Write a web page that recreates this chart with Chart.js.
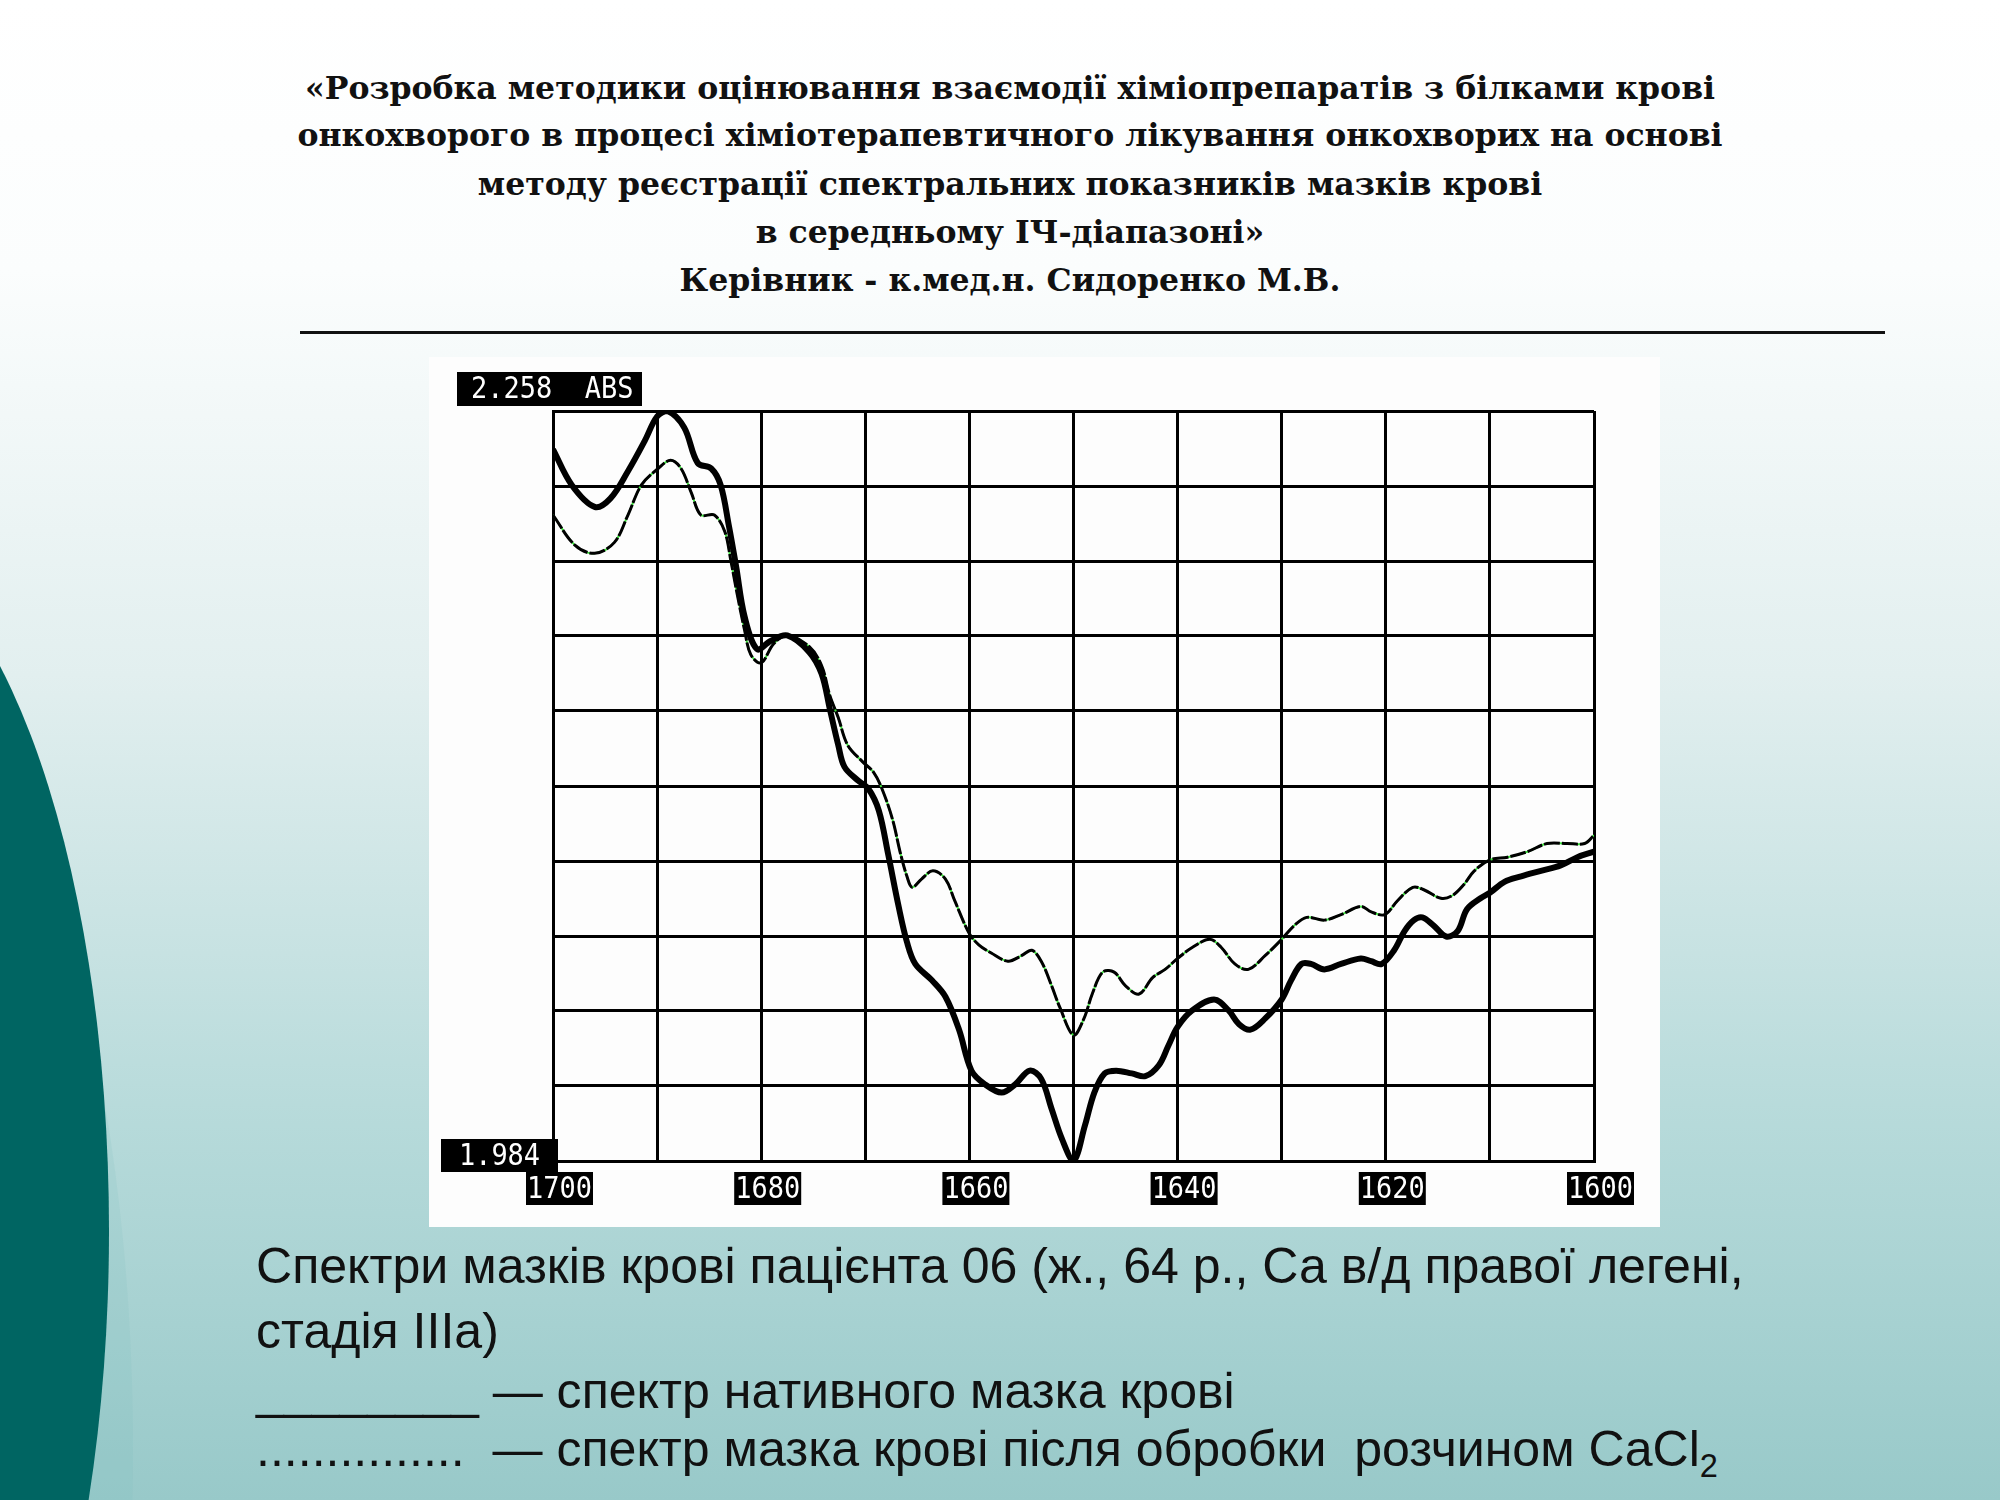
<!DOCTYPE html>
<html>
<head>
<meta charset="utf-8">
<script src="https://cdn.jsdelivr.net/npm/chart.js@4.4.1/dist/chart.umd.min.js"></script>
<style>
  html, body { margin: 0; padding: 0; }
  body {
    width: 2000px; height: 1500px; position: relative; overflow: hidden;
    background: linear-gradient(to bottom, #ffffff 0%, #fbfdfd 18%, #e2efef 45%, #b6dada 75%, #98c9c9 100%);
  }
  .blob { position: absolute; border-radius: 50%; }
  .line { position: absolute; height: 0; line-height: 0; white-space: pre; }
  .title { left: 20px; width: 1980px; text-align: center; font-family: "DejaVu Serif", serif; font-weight: bold; font-size: 30px; color: #111; }
  .caption { left: 256px; font-family: "Liberation Sans", Arial, sans-serif; font-size: 44px; color: #111; }
  .caption span, .title span { display: inline-block; }
  #rule { position: absolute; left: 300px; top: 331px; width: 1585px; height: 3px; background: #111; }
  #chartBox { position: absolute; left: 429px; top: 357px; width: 1231px; height: 870px; background: #fdfdfd; }
</style>
</head>
<body>
<div class="blob" style="left:-333px; top:724px; width:466px; height:1452px; background: rgba(120,185,190,0.15);"></div>
<div class="blob" style="left:-423px; top:531px; width:532px; height:1400px; background:#006562;"></div>

<div class="line title" style="top:88px"><span>«Розробка методики оцінювання взаємодії хіміопрепаратів з білками крові</span></div>
<div class="line title" style="top:135px"><span>онкохворого в процесі хіміотерапевтичного лікування онкохворих на основі</span></div>
<div class="line title" style="top:184px"><span>методу реєстрації спектральних показників мазків крові</span></div>
<div class="line title" style="top:232px"><span>в середньому ІЧ-діапазоні»</span></div>
<div class="line title" style="top:280px"><span>Керівник - к.мед.н. Сидоренко М.В.</span></div>
<div id="rule"></div>

<div id="chartBox"><canvas id="spectra" width="1231" height="870"></canvas></div>

<div class="line caption" style="top:1266px"><span>Спектри мазків крові пацієнта 06 (ж., 64 р., Са в/д правої легені,</span></div>
<div class="line caption" style="top:1331px"><span>стадія IIIa)</span></div>
<div class="line caption" style="top:1391px"><span>________ — спектр нативного мазка крові</span></div>
<div class="line caption" style="top:1449px"><span>...............  — спектр мазка крові після обробки  розчином CaCl<sub style="font-size:0.65em; line-height:0">2</sub></span></div>

<script>
// wavenumber, cm-1 (x axis runs 1700 -> 1600)
const nativeWn = [1700, 1698.2, 1696, 1694.5, 1692.8, 1691.2, 1690, 1689, 1687.4, 1686.1, 1684.8, 1683.9, 1683.1,
  1682.4, 1681.6, 1680.4, 1679.1, 1677.5, 1675.4, 1674.2, 1673.4, 1672.6, 1672, 1670.7, 1669.7, 1668.7, 1667.8,
  1666.8, 1666, 1665.2, 1663.6, 1662.3, 1661, 1659.8, 1658.5, 1656.9, 1655.6, 1654.2, 1653.1, 1652.1, 1651.1,
  1650, 1648.9, 1648, 1647, 1645.9, 1644.4, 1643.1, 1641.8, 1640.9, 1640, 1638.6, 1636.5, 1635.1, 1634.1, 1633,
  1631.6, 1630, 1629.1, 1628.1, 1627.2, 1625.9, 1624.3, 1622.4, 1621.4, 1620.4, 1619.2, 1618.2, 1617.3, 1616.5,
  1615.4, 1614.2, 1613.1, 1612.2, 1610.9, 1610, 1608.6, 1607, 1605.1, 1603.2, 1601.6, 1600];
// absorbance of native smear
const nativeAbs = [2.244, 2.231, 2.223, 2.226, 2.236, 2.247, 2.256, 2.258, 2.252, 2.239, 2.237, 2.231, 2.216,
  2.201, 2.183, 2.171, 2.174, 2.176, 2.170, 2.162, 2.149, 2.136, 2.128, 2.123, 2.120, 2.112, 2.096,
  2.077, 2.064, 2.056, 2.050, 2.044, 2.032, 2.017, 2.012, 2.009, 2.012, 2.017, 2.014, 2.003, 1.992,
  1.984, 1.997, 2.009, 2.016, 2.017, 2.016, 2.015, 2.019, 2.026, 2.033, 2.039, 2.043, 2.039, 2.034, 2.032,
  2.036, 2.043, 2.050, 2.056, 2.056, 2.054, 2.056, 2.058, 2.057, 2.056, 2.061, 2.068, 2.072, 2.073,
  2.070, 2.066, 2.068, 2.076, 2.080, 2.082, 2.086, 2.088, 2.090, 2.092, 2.095, 2.097];

const cacl2Wn = [1700, 1697.9, 1696, 1694.1, 1692.8, 1691.5, 1689.9, 1688.7, 1687.7, 1686.7, 1685.8, 1684.5, 1683.5,
  1682.9, 1682.3, 1681.6, 1681, 1680, 1678.8, 1677.5, 1675.4, 1674.2, 1673.4, 1672.6, 1671.7, 1670.3, 1669.2,
  1668.4, 1667.4, 1666.6, 1666, 1665.5, 1664.6, 1663.5, 1662.3, 1661.4, 1660, 1659.1, 1657.9, 1656.3, 1655,
  1654, 1653.1, 1652.1, 1651.3, 1650, 1649, 1648.2, 1647.2, 1646.1, 1645, 1643.7, 1642.4, 1641.2, 1640,
  1638.6, 1636.9, 1635.8, 1634.5, 1633.2, 1631.6, 1630, 1628.8, 1627.6, 1625.9, 1624.3, 1622.4, 1621.4, 1620.1,
  1618.9, 1617.4, 1616.3, 1614.7, 1613.6, 1612.5, 1611.5, 1610, 1608.3, 1606.4, 1604.5, 1602.6, 1600.9, 1600];
// absorbance after CaCl2 treatment
const cacl2Abs = [2.220, 2.209, 2.206, 2.210, 2.220, 2.231, 2.237, 2.240, 2.237, 2.228, 2.220, 2.220, 2.214,
  2.203, 2.191, 2.178, 2.169, 2.166, 2.173, 2.176, 2.172, 2.165, 2.154, 2.146, 2.136, 2.130, 2.126,
  2.120, 2.109, 2.096, 2.088, 2.084, 2.087, 2.090, 2.087, 2.079, 2.067, 2.063, 2.060, 2.057, 2.059,
  2.061, 2.057, 2.048, 2.040, 2.030, 2.036, 2.045, 2.053, 2.053, 2.048, 2.045, 2.051, 2.054, 2.058,
  2.062, 2.065, 2.062, 2.056, 2.054, 2.059, 2.065, 2.070, 2.073, 2.072, 2.074, 2.077, 2.075, 2.074,
  2.079, 2.084, 2.083, 2.080, 2.081, 2.085, 2.090, 2.094, 2.095, 2.097, 2.100, 2.100, 2.100, 2.103];

const xTickLabels = [1700, 1680, 1660, 1640, 1620, 1600];
const yGrid = [1.984, 2.0114, 2.0388, 2.0662, 2.0936, 2.121, 2.1484, 2.1758, 2.2032, 2.2306, 2.258];
const yMinLabel = '1.984';
const yMaxLabel = '2.258  ABS';

// fit text widths to the slide layout
function fitLines(selector, targets) {
  const spans = [...document.querySelectorAll(selector + ' span')];
  let sum = 0;
  spans.forEach((s, i) => { sum += targets[i] / s.getBoundingClientRect().width; });
  const r = sum / spans.length;
  document.querySelectorAll(selector).forEach(el => {
    el.style.fontSize = (parseFloat(getComputedStyle(el).fontSize) * r) + 'px';
  });
}
fitLines('.title', [1418, 1440, 1069, 510, 647]);
fitLines('.caption', [1483, 245, 975, 1460]);

function drawBox(ctx, left, top, w, h, text, align) {
  ctx.fillStyle = '#000';
  ctx.fillRect(left, top, w, h);
  ctx.save();
  ctx.fillStyle = '#fff';
  ctx.textBaseline = 'middle';
  const sx = 0.87;
  if (align === 'left') {
    ctx.translate(left + 14, top + h / 2 + 1);
    ctx.scale(sx, 1);
    ctx.textAlign = 'left';
  } else {
    ctx.translate(left + w / 2, top + h / 2 + 1);
    ctx.scale(sx, 1);
    ctx.textAlign = 'center';
  }
  ctx.fillText(text, 0, 0);
  ctx.restore();
}

const boxLabels = {
  id: 'boxLabels',
  afterDraw(chart) {
    const { ctx, chartArea, scales: { x, y } } = chart;
    ctx.save();
    ctx.font = '31px "DejaVu Sans Mono", monospace';
    xTickLabels.forEach(v => {
      const cx = x.getPixelForValue(v) + 6;
      drawBox(ctx, cx - 33, chartArea.bottom + 11, 67, 33, String(v));
    });
    const yb = y.getPixelForValue(yGrid[0]);
    drawBox(ctx, chartArea.left - 112, yb - 22, 117, 33, yMinLabel);
    const yt = y.getPixelForValue(yGrid[yGrid.length - 1]);
    drawBox(ctx, chartArea.left - 96, yt - 39, 185, 34, yMaxLabel, 'left');
    ctx.restore();
  }
};

const toPts = (xs, ys) => xs.map((w, i) => ({ x: w, y: ys[i] }));

new Chart(document.getElementById('spectra').getContext('2d'), {
  type: 'line',
  data: {
    datasets: [
      {
        label: 'нативний мазок',
        data: toPts(nativeWn, nativeAbs),
        borderColor: '#000',
        borderWidth: 6,
        tension: 0.35,
        pointRadius: 0,
        order: 1
      },
      {
        label: 'після CaCl2',
        data: toPts(cacl2Wn, cacl2Abs),
        borderColor: '#000',
        borderWidth: 3,
        borderDash: [16, 2],
        tension: 0.35,
        pointRadius: 0,
        order: 2
      },
      {
        label: 'після CaCl2 (фон)',
        data: toPts(cacl2Wn, cacl2Abs),
        borderColor: '#3fe43f',
        borderWidth: 2,
        tension: 0.35,
        pointRadius: 0,
        order: 3
      }
    ]
  },
  options: {
    responsive: false,
    animation: false,
    devicePixelRatio: 1,
    layout: { padding: { left: 124, right: 66, top: 54, bottom: 66 } },
    plugins: { legend: { display: false }, tooltip: { enabled: false } },
    scales: {
      x: {
        type: 'linear',
        min: 1600,
        max: 1700,
        reverse: true,
        ticks: { display: false, stepSize: 10 },
        grid: { color: '#000', lineWidth: 3, drawTicks: false },
        border: { display: true, color: '#000', width: 3 }
      },
      y: {
        type: 'linear',
        min: 1.984,
        max: 2.258,
        afterBuildTicks: axis => { axis.ticks = yGrid.map(v => ({ value: v })); },
        ticks: { display: false },
        grid: { color: '#000', lineWidth: 3, drawTicks: false },
        border: { display: true, color: '#000', width: 3 }
      }
    }
  },
  plugins: [boxLabels]
});
</script>
</body>
</html>
